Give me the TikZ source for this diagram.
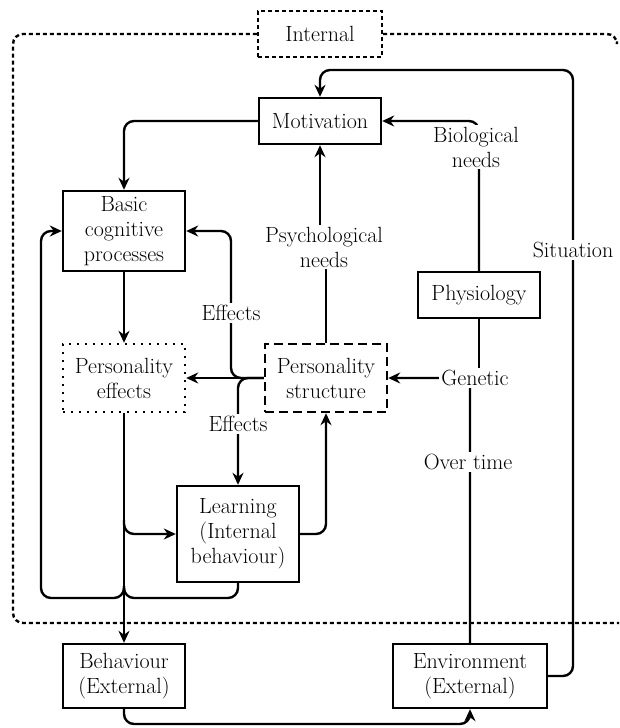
\documentclass[tikz,border=0pt]{standalone}
\usetikzlibrary{arrows.meta}
\begin{document}
\begin{tikzpicture}[x=1pt,y=-1pt,
  txt/.style={font=\fontsize{22}{25}\selectfont},
  box/.style={txt, draw, line width=2.4pt, minimum width=122pt, align=center, inner sep=1pt},
  lbl/.style={txt, fill=white, align=center, inner sep=2pt},
  conn/.style={line width=2.4pt, rounded corners=10pt},
  arr/.style={conn, -{Stealth[length=12pt,width=11pt]}},
  dashpat/.style={dash pattern=on 4pt off 3pt},
  outerline/.style={line width=2.4pt, dashpat, rounded corners=10pt},
  dotbox/.style={box, dash pattern=on 2.4pt off 5.6pt},
  dashbox/.style={box, dash pattern=on 9pt off 5pt},
]
\useasboundingbox (0,0) rectangle (619,728);
% outer dotted region
\node[box, dashpat, minimum height=46pt, minimum width=124pt] (int) at (320,34) {Internal};
\draw[outerline] (int.west) -- (13,34) -- (13,623) -- (619,623);
\draw[outerline] (int.east) -- (617,34) -- (617,40);
% boxes
\node[box, minimum height=46pt] (mot) at (320,121) {Motivation};
\node[box, minimum height=80pt] (bcp) at (124,231) {Basic\\cognitive\\processes};
\node[box, minimum height=46pt] (phy) at (479,295) {Physiology};
\node[dotbox, minimum height=68pt] (pe) at (124,378) {Personality\\effects};
\node[dashbox, minimum height=68pt] (ps) at (326,378) {Personality\\structure};
\node[box, minimum height=96pt] (lrn) at (238,534) {Learning\\(Internal\\behaviour)};
\node[box, minimum height=64pt] (beh) at (124,676) {Behaviour\\(External)};
\node[box, minimum height=64pt, minimum width=154pt] (env) at (470,676) {Environment\\(External)};
% coordinates
\coordinate (br) at (124,520);
\coordinate (jn) at (124,586);
\coordinate (up) at (231,231);
\coordinate (sit) at (573,70);
% labels
\node[lbl] (psy) at (324,247) {Psychological\\needs};
\node[lbl] (bio) at (476,147) {Biological\\needs};
\node[lbl] (gen) at (475,378) {Genetic};
\node[lbl] (ovt) at (468,462) {Over time};
\node[lbl] (sitl) at (573,250) {Situation};
% connectors
\draw[arr] (mot.west) -| (bcp.north);
\draw[arr] (bcp.south) -- (pe.north);
\draw[arr] (pe.south) -- (beh.north);
\draw[arr] (br) |- (lrn.west);
\draw[conn] (lrn.south) -- (238,598) -- (124,598) -- (jn);
\draw[arr] (jn) -- (124,598) -- (41,598) -- (41,231) -- (bcp.west);
\draw[arr] (ps.west) -- (pe.east);
\draw[arr] (ps.west) -- (up |- ps.west) -- (up) -- (bcp.east);
\draw[arr] (ps.west) -| (lrn.north);
\draw[arr] (lrn.east) -| (ps.south);
\draw[conn] (ps.north) -- (ps.north |- psy.south);
\draw[arr] (mot.south |- psy.north) -- (mot.south);
\draw[arr] (phy.north) |- (mot.east);
\draw[conn] (phy.south) -- (phy.south |- gen.north);
\draw[arr] (env.north) |- (ps.east);
\draw[arr] (env.east) -| (sit) -| (mot.north);
\draw[arr] (beh.south) -- (124,724) -| (env.south);
% labels on top
\node[lbl] at (psy) {Psychological\\needs};
\node[lbl] at (bio) {Biological\\needs};
\node[lbl] at (gen) {Genetic};
\node[lbl] at (ovt) {Over time};
\node[lbl] at (sitl) {Situation};
\node[lbl] at (231,313) {Effects};
\node[lbl] at (238,424) {Effects};
\end{tikzpicture}
\end{document}
